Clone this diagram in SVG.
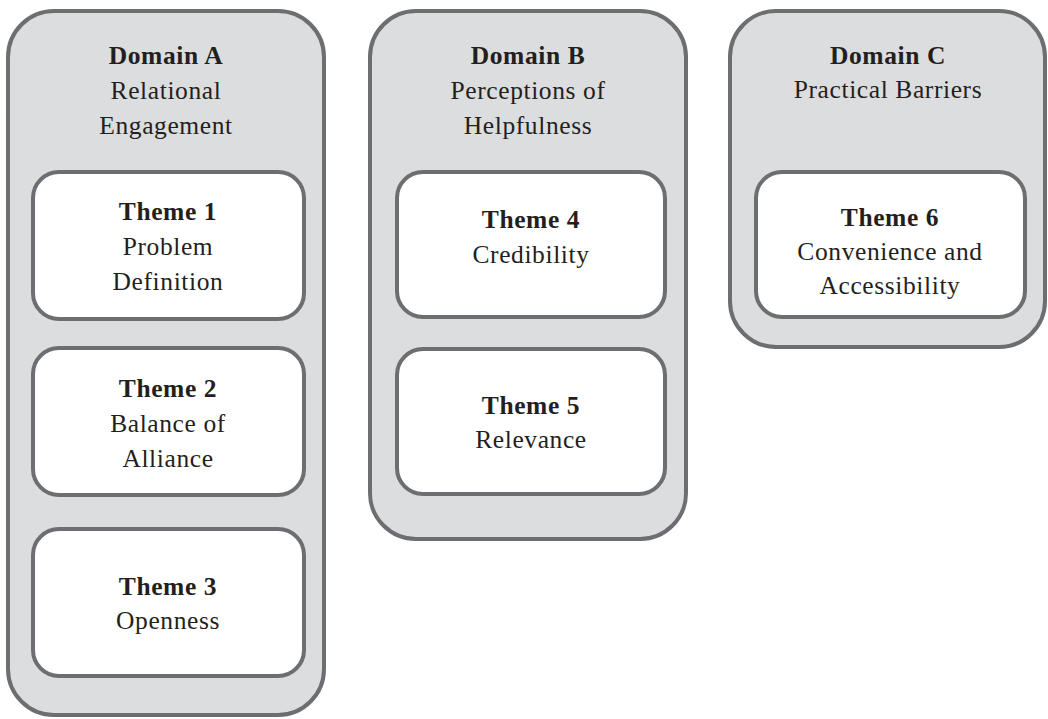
<svg xmlns="http://www.w3.org/2000/svg" width="1048" height="719" viewBox="0 0 1048 719">
<style>
.dom{fill:#dcdddf;stroke:#6d6e71;stroke-width:4}
.thm{fill:#ffffff;stroke:#6d6e71;stroke-width:4}
text{font-family:"Liberation Serif","Times New Roman",serif;font-size:25.5px;fill:#231f20;text-anchor:middle;letter-spacing:0.6px}
.b{font-weight:bold}
</style>
<rect width="1048" height="719" fill="#ffffff"/>
<g id="domainA">
<rect class="dom" x="8" y="11" width="316" height="704" rx="46"/>
<text x="166" y="64" class="b">Domain A</text>
<text x="166" y="99">Relational</text>
<text x="166" y="134">Engagement</text>
</g>
<g id="theme1">
<rect class="thm" x="33" y="172" width="271" height="147" rx="26"/>
<text x="168" y="220" class="b">Theme 1</text>
<text x="168" y="255">Problem</text>
<text x="168" y="290">Definition</text>
</g>
<g id="theme2">
<rect class="thm" x="33" y="348" width="271" height="147" rx="26"/>
<text x="168" y="397" class="b">Theme 2</text>
<text x="168" y="432">Balance of</text>
<text x="168" y="467">Alliance</text>
</g>
<g id="theme3">
<rect class="thm" x="33" y="529" width="271" height="147" rx="26"/>
<text x="168" y="595" class="b">Theme 3</text>
<text x="168" y="629">Openness</text>
</g>
<g id="domainB">
<rect class="dom" x="370" y="11" width="316" height="528" rx="46"/>
<text x="528" y="64" class="b">Domain B</text>
<text x="528" y="99">Perceptions of</text>
<text x="528" y="134">Helpfulness</text>
</g>
<g id="theme4">
<rect class="thm" x="397" y="172" width="268" height="145" rx="26"/>
<text x="531" y="228" class="b">Theme 4</text>
<text x="531" y="263">Credibility</text>
</g>
<g id="theme5">
<rect class="thm" x="397" y="349" width="268" height="145" rx="26"/>
<text x="531" y="414" class="b">Theme 5</text>
<text x="531" y="448">Relevance</text>
</g>
<g id="domainC">
<rect class="dom" x="730" y="11" width="315" height="336" rx="46"/>
<text x="888" y="64" class="b">Domain C</text>
<text x="888" y="98">Practical Barriers</text>
</g>
<g id="theme6">
<rect class="thm" x="756" y="172" width="269" height="145" rx="26"/>
<text x="890" y="226" class="b">Theme 6</text>
<text x="890" y="260">Convenience and</text>
<text x="890" y="294">Accessibility</text>
</g>
<g id="connectors"></g>
</svg>
